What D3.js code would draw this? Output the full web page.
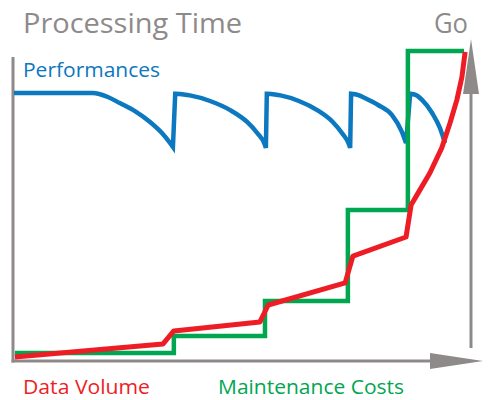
<!DOCTYPE html>
<html>
<head>
<meta charset="utf-8">
<script src="https://cdn.jsdelivr.net/npm/d3@7"></script>
<style>
  body { margin: 0; background: #fff; }
  svg { display: block; }
  text { font-family: "Open Sans", "Noto Sans", sans-serif; }
</style>
</head>
<body>
<div id="chart"></div>
<script>
// Data (abstract units, x: 0..100 time, y: 0..100 level)
var perfSegments = [
  [[0,83.75],[17.2,83.75],[20.5,82.5],[23.1,80.6],[26.4,78.1],[29.7,74.7],[32.3,71.25],[34.1,68.1],[34.7,66.9]],
  [[35.2,83.5],[38.4,83],[42.8,81.25],[47.2,78.4],[50.9,74.7],[53.1,71.25],[54.8,67.5],[55,66.6]],
  [[55.2,83.5],[58.2,83],[62.2,81.25],[66.2,78.4],[69.6,74.7],[71.6,71.25],[73.2,67.5],[73.4,66.6]],
  [[73.6,83.5],[75.2,83.1],[76.6,82.2],[79.5,80],[82.5,76.9],[84.7,71.6],[85.6,68.1]],
  [[86.5,83.5],[87.8,83.1],[89.1,81.6],[91.3,77.5],[93,72.8],[94.1,68.1]]
];
var volumeX = [0.2, 32.5, 34.9, 53.7, 55.5, 72.3, 74, 85.6, 86.7, 88.6, 90.8, 93.4, 95.2, 96.7, 97.8, 98.5];
var volumeY = [1.25, 5.3, 9.4, 12.2, 17.5, 24.4, 32.8, 38.75, 48.75, 53.4, 58.75, 66.6, 74.4, 81.6, 88.75, 96.6];
var costX = [0.2, 34.9, 54.8, 72.9, 86, 98.25];
var costY = [2.5, 7.8, 18.75, 47.2, 96.9, 96.9];

var labels = {
  title: "Processing Time",
  go: "Go",
  perf: "Performances",
  volume: "Data Volume",
  cost: "Maintenance Costs"
};

var width = 489, height = 400;
var grey = "#8e8a8a", blue = "#0b78c0", red = "#ee1d25", green = "#00a650";

var x = d3.scaleLinear().domain([0, 100]).range([14, 472]);
var y = d3.scaleLinear().domain([0, 100]).range([361, 41]);

var svg = d3.select("#chart")
    .append("svg")
    .attr("width", width)
    .attr("height", height);

// axes
svg.append("line")
    .attr("x1", 13).attr("x2", 13)
    .attr("y1", 57).attr("y2", y(0) + 1.5)
    .attr("stroke", grey).attr("stroke-width", 3);

svg.append("line")
    .attr("x1", 11.5).attr("x2", 432)
    .attr("y1", y(0)).attr("y2", y(0))
    .attr("stroke", grey).attr("stroke-width", 3);
svg.append("path")
    .attr("d", "M430," + (y(0) - 8) + "L483," + y(0) + "L430," + (y(0) + 8) + "Z")
    .attr("fill", grey);

svg.append("line")
    .attr("x1", 471).attr("x2", 471)
    .attr("y1", 348).attr("y2", 92)
    .attr("stroke", grey).attr("stroke-width", 3);
svg.append("path")
    .attr("d", "M463,94L471,39L479,94Z")
    .attr("fill", grey);

// Performances
var arc = d3.line()
    .x(function(d){ return x(d[0]); })
    .y(function(d){ return y(d[1]); })
    .curve(d3.curveMonotoneX);

var perfPath = perfSegments.map(function(s, i){
    var p = arc(s);
    return i === 0 ? p : "L" + p.slice(1);
}).join("");

svg.append("path")
    .attr("d", perfPath)
    .attr("fill", "none")
    .attr("stroke", blue)
    .attr("stroke-width", 4.5)
    .attr("stroke-linejoin", "miter");

// Maintenance costs
var step = d3.line()
    .x(function(d){ return x(d[0]); })
    .y(function(d){ return y(d[1]); })
    .curve(d3.curveStepAfter);

svg.append("path")
    .attr("d", step(costX.map(function(v, i){ return [v, costY[i]]; })))
    .attr("fill", "none")
    .attr("stroke", green)
    .attr("stroke-width", 4.5);

// Data volume
var vline = d3.line()
    .x(function(d){ return x(d[0]); })
    .y(function(d){ return y(d[1]); });

svg.append("path")
    .attr("d", vline(volumeX.map(function(v, i){ return [v, volumeY[i]]; })))
    .attr("fill", "none")
    .attr("stroke", red)
    .attr("stroke-width", 5)
    .attr("stroke-linejoin", "round");

// texts
function label(txt, px, py, size, len, color, weight) {
    svg.append("text")
        .attr("x", px).attr("y", py)
        .attr("font-size", size)
        .attr("font-weight", weight || 400)
        .attr("textLength", len)
        .attr("lengthAdjust", "spacingAndGlyphs")
        .attr("fill", color)
        .text(txt);
}
label(labels.title, 23, 33, 28, 219, grey, 500);
label(labels.go, 434, 33, 28, 34, grey, 500);
label(labels.perf, 23, 77, 20, 137, blue);
label(labels.volume, 23, 394, 20, 127, red);
label(labels.cost, 218, 394, 20, 186, green);
</script>
</body>
</html>
